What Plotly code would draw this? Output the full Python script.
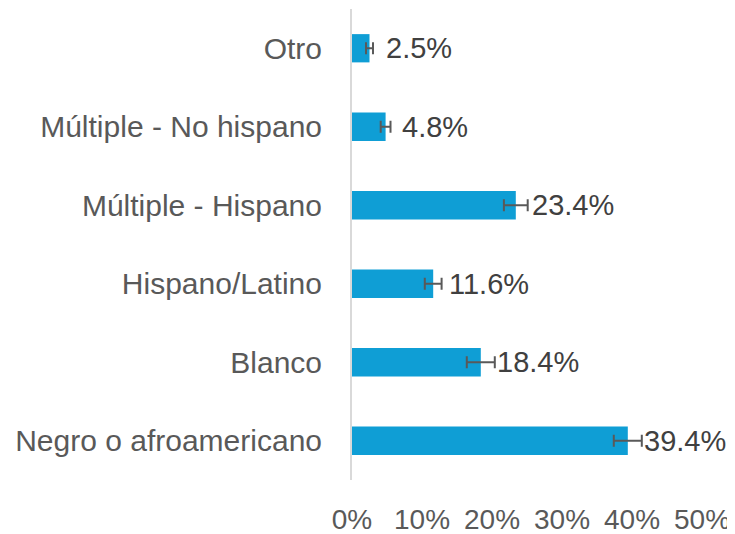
import plotly.graph_objects as go

categories = ["Otro", "Múltiple - No hispano", "Múltiple - Hispano",
              "Hispano/Latino", "Blanco", "Negro o afroamericano"]
values = [2.5, 4.8, 23.4, 11.6, 18.4, 39.4]
errors = [0.5, 0.7, 1.7, 1.2, 2.0, 2.0]
labels = ["2.5%", "4.8%", "23.4%", "11.6%", "18.4%", "39.4%"]
tick_vals = [0, 10, 20, 30, 40, 50]
tick_text = ["0%", "10%", "20%", "30%", "40%", "50%"]

FONT = "Liberation Sans, Arial, sans-serif"

fig = go.Figure()
fig.add_trace(go.Bar(
    y=categories, x=values, orientation="h",
    marker=dict(color="#0F9ED5", line=dict(width=0)),
    error_x=dict(type="data", array=errors, visible=True,
                 color="#595959", thickness=2, width=6),
    showlegend=False, hoverinfo="skip",
))
for cat, v, lab in zip(categories, values, labels):
    fig.add_annotation(
        x=v, y=cat, xref="x", yref="y", text=lab, showarrow=False,
        xanchor="left", yanchor="middle", xshift=14,
        font=dict(family=FONT, size=29, color="#404040"),
    )

fig.update_layout(
    width=727, height=526,
    margin=dict(l=344, r=33, t=1, b=54),
    paper_bgcolor="white", plot_bgcolor="white",
    bargap=0.64,
    font=dict(family=FONT, size=28, color="#595959"),
    xaxis=dict(range=[0, 50], tickvals=tick_vals, ticktext=tick_text,
               showgrid=False, zeroline=False, showline=False,
               ticks="", ticklabelstandoff=20, automargin=False,
               tickfont=dict(family=FONT, size=28, color="#595959")),
    yaxis=dict(autorange="reversed", showgrid=False, zeroline=False,
               showline=True, linecolor="#D9D9D9", linewidth=2,
               ticks="", ticklabelstandoff=22, automargin=False,
               tickfont=dict(family=FONT, size=30, color="#595959")),
)

fig.write_html("out.html")
